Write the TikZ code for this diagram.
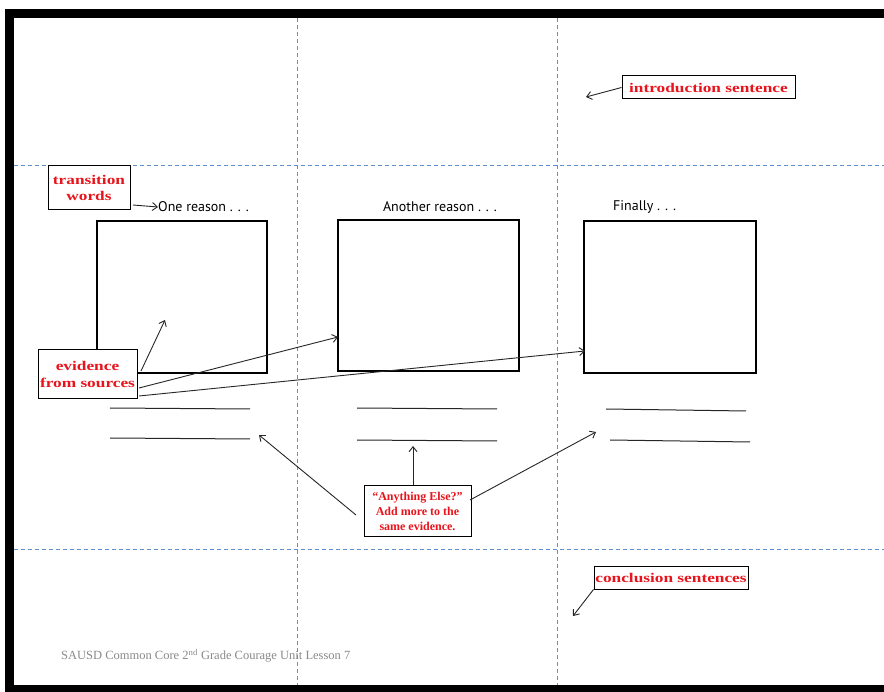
\documentclass[tikz,border=0pt]{standalone}
\usepackage{fontspec}
\setmainfont{Liberation Serif}
\newfontfamily\lblfont[FakeStretch=1.3]{Liberation Serif}
\newfontfamily\smlfont{Liberation Serif}
\newfontfamily\handfont{PT Sans}
\usetikzlibrary{arrows.meta}
\definecolor{dashblue}{HTML}{5E8FD0}
\definecolor{lblred}{HTML}{E8131B}
\definecolor{footgray}{HTML}{8A8A8A}
\begin{document}
\begin{tikzpicture}[x=1pt,y=-1pt,
  gridline/.style={draw=dashblue, line width=0.9pt, dash pattern=on 4pt off 3pt},
  bigbox/.style={draw=black, line width=1.1pt, inner sep=0pt},
  callout/.style={draw=black, line width=1pt, fill=white, inner sep=0pt, align=center, text=lblred, font=\lblfont\bfseries\fontsize{13.3}{16.5}\selectfont},
  smallcallout/.style={callout, font=\smlfont\bfseries\fontsize{12}{15}\selectfont},
  hand/.style={font=\handfont\fontsize{14}{16}\selectfont, inner sep=0pt},
  writeline/.style={draw=black!85, line width=1pt},
  arr/.style={draw=black!85, line width=0.9pt, -{Straight Barb[length=5pt,width=8pt]}},
]
\useasboundingbox (0,0) rectangle (884,692);
\fill[white] (0,0) rectangle (884,692);
% frame
\fill[black] (5,9) rectangle (884,18);
\fill[black] (5,9) rectangle (14,692);
\fill[black] (5,685) rectangle (884,692);
% dashed grid
\draw[gridline] (297,18) -- (297,685);
\draw[gridline] (557,18) -- (557,685);
\draw[gridline] (14,165) -- (884,165);
\draw[gridline] (14,549) -- (884,549);
% big boxes
\node[bigbox, minimum width=170pt, minimum height=152pt] (box1) at (182,297) {};
\node[bigbox, minimum width=181pt, minimum height=151pt] (box2) at (428.5,295.5) {};
\node[bigbox, minimum width=172pt, minimum height=152pt] (box3) at (670,297) {};
% handwritten labels
\node[hand, anchor=west] (one) at (158,207) {One reason . . .};
\node[hand] (another) at (440,207) {Another reason . . .};
\node[hand, anchor=west] (finally) at (613,207) {Finally . . .};
% writing lines
\coordinate (l1a) at (110,408); \coordinate (l1b) at (250,409);
\coordinate (l2a) at (110,438); \coordinate (l2b) at (250,439);
\coordinate (l3a) at (357,408); \coordinate (l3b) at (497,409);
\coordinate (l4a) at (357,440); \coordinate (l4b) at (497,441);
\coordinate (l5a) at (606,409); \coordinate (l5b) at (746,411);
\coordinate (l6a) at (610,440); \coordinate (l6b) at (750,442);
\draw[writeline] (l1a) -- (l1b);
\draw[writeline] (l2a) -- (l2b);
\draw[writeline] (l3a) -- (l3b);
\draw[writeline] (l4a) -- (l4b);
\draw[writeline] (l5a) -- (l5b);
\draw[writeline] (l6a) -- (l6b);
% callouts
\node[callout, minimum width=82pt, minimum height=44pt] (trans) at (89,188) {transition\\words};
\node[callout, minimum width=173pt, minimum height=23pt] (intro) at (708.5,87.5) {introduction sentence};
\node[callout, minimum width=99pt, minimum height=49pt] (evid) at (87.5,374.5) {evidence\\from sources};
\node[smallcallout, minimum width=107pt, minimum height=50pt] (anyth) at (417.5,511) {“Anything Else?”\\Add more to the\\same evidence.};
\node[callout, minimum width=154pt, minimum height=23pt] (concl) at (671,577.5) {conclusion sentences};
% footer
\node[anchor=west, inner sep=0pt, text=footgray, font=\smlfont\fontsize{12.5}{14}\selectfont] (foot) at (61,656) {SAUSD Common Core 2\textsuperscript{nd} Grade Courage Unit Lesson 7};
% arrow endpoints
\coordinate (transout) at (133,205);
\coordinate (introtip) at (586,97);
\coordinate (ev1s) at (141,371); \coordinate (ev1e) at (165,320);
\coordinate (ev2s) at (139,388); \coordinate (ev2e) at (338,337);
\coordinate (ev3s) at (139,396); \coordinate (ev3e) at (585,351);
\coordinate (an1s) at (356,515); \coordinate (an1e) at (259,435);
\coordinate (an2e) at (413,446);
\coordinate (an3s) at (470,500); \coordinate (an3e) at (596,432);
\coordinate (conctip) at (573,616);
% arrows
\draw[arr] (transout) -- (one.west);
\draw[arr] (intro.west) -- (introtip);
\draw[arr] (ev1s) -- (ev1e);
\draw[arr] (ev2s) -- (ev2e);
\draw[arr] (ev3s) -- (ev3e);
\draw[arr] (an1s) -- (an1e);
\draw[arr] (anyth.north -| an2e) -- (an2e);
\draw[arr] (an3s) -- (an3e);
\draw[arr] (concl.south west) -- (conctip);
\end{tikzpicture}
\end{document}
